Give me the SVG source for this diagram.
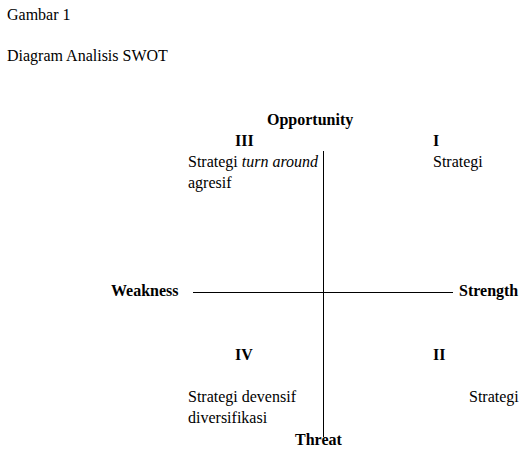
<svg xmlns="http://www.w3.org/2000/svg" width="530" height="456" viewBox="0 0 530 456">
<style>
text{font-family:'Liberation Serif','Times New Roman',serif;font-size:16px;fill:#000}
.b{font-weight:bold}
.ax{stroke:#000;stroke-width:1;fill:none}
</style>
<rect width="530" height="456" fill="#fff"/>
<text x="7" y="20">Gambar 1</text>
<text x="7" y="61">Diagram Analisis SWOT</text>
<g id="connectors">
<line class="ax" x1="323.5" y1="151" x2="323.5" y2="437"/>
<line class="ax" x1="193" y1="292.5" x2="453" y2="292.5"/>
</g>
<g id="opportunity"><text class="b" x="267" y="125">Opportunity</text></g>
<g id="threat"><text class="b" x="295" y="445">Threat</text></g>
<g id="weakness"><text class="b" x="111" y="296">Weakness</text></g>
<g id="strength"><text class="b" x="459" y="296">Strength</text></g>
<g id="q3"><text class="b" x="235" y="146">III</text>
<text x="188" y="167">Strategi <tspan font-style="italic">turn around</tspan></text>
<text x="188" y="188">agresif</text></g>
<g id="q1"><text class="b" x="433" y="146">I</text>
<text x="433" y="167">Strategi</text></g>
<g id="q4"><text class="b" x="235" y="360">IV</text>
<text x="188" y="402">Strategi devensif</text>
<text x="188" y="423">diversifikasi</text></g>
<g id="q2"><text class="b" x="433" y="360">II</text>
<text x="469" y="402">Strategi</text></g>
</svg>
